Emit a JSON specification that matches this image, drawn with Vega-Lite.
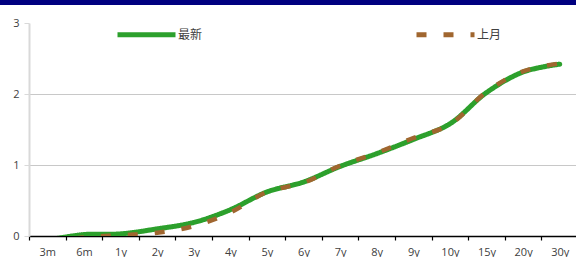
{
  "$schema": "https://vega.github.io/schema/vega-lite/v6.json",
  "padding": 0,
  "spacing": 12,
  "config": {"view": {"stroke": null}, "font": "Noto Sans CJK SC"},
  "vconcat": [
    {
      "width": 576,
      "height": 5,
      "data": {"values": [{"band": 1}]},
      "mark": {"type": "rect", "color": "#000080"},
      "encoding": {}
    },
    {
      "width": 578,
      "height": 213,
      "data": {"values": [
        {"tenor": "3m", "series": "最新", "yield": -0.06},
        {"tenor": "6m", "series": "最新", "yield": 0.02},
        {"tenor": "1y", "series": "最新", "yield": 0.03},
        {"tenor": "2y", "series": "最新", "yield": 0.10},
        {"tenor": "3y", "series": "最新", "yield": 0.19},
        {"tenor": "4y", "series": "最新", "yield": 0.37},
        {"tenor": "5y", "series": "最新", "yield": 0.62},
        {"tenor": "6y", "series": "最新", "yield": 0.76},
        {"tenor": "7y", "series": "最新", "yield": 0.98},
        {"tenor": "8y", "series": "最新", "yield": 1.16},
        {"tenor": "9y", "series": "最新", "yield": 1.36},
        {"tenor": "10y", "series": "最新", "yield": 1.58},
        {"tenor": "15y", "series": "最新", "yield": 2.02},
        {"tenor": "20y", "series": "最新", "yield": 2.31},
        {"tenor": "30y", "series": "最新", "yield": 2.42},
        {"tenor": "3m", "series": "上月", "yield": -0.1},
        {"tenor": "6m", "series": "上月", "yield": -0.02},
        {"tenor": "1y", "series": "上月", "yield": 0.01},
        {"tenor": "2y", "series": "上月", "yield": 0.045},
        {"tenor": "3y", "series": "上月", "yield": 0.14},
        {"tenor": "4y", "series": "上月", "yield": 0.33},
        {"tenor": "5y", "series": "上月", "yield": 0.62},
        {"tenor": "6y", "series": "上月", "yield": 0.75},
        {"tenor": "7y", "series": "上月", "yield": 0.99},
        {"tenor": "8y", "series": "上月", "yield": 1.17},
        {"tenor": "9y", "series": "上月", "yield": 1.38},
        {"tenor": "10y", "series": "上月", "yield": 1.57},
        {"tenor": "15y", "series": "上月", "yield": 2.03},
        {"tenor": "20y", "series": "上月", "yield": 2.32},
        {"tenor": "30y", "series": "上月", "yield": 2.43}
      ]},
      "encoding": {
        "x": {
          "field": "tenor", "type": "nominal", "sort": null,
          "scale": {"paddingInner": 0, "paddingOuter": 0, "range": [29, 578]},
          "axis": {
            "title": null, "labelAngle": 0, "tickBand": "extent",
            "domainColor": "#000000", "domainWidth": 1.5,
            "tickColor": "#000000", "tickSize": 4, "tickWidth": 1.2,
            "labelPadding": 6, "labelFontSize": 11, "labelColor": "#404040",
            "labelFont": "Open Sans"
          }
        },
        "y": {
          "field": "yield", "type": "quantitative",
          "scale": {"domain": [0, 3], "nice": false},
          "axis": {
            "title": null, "values": [0, 1, 2, 3], "offset": -29,
            "domainColor": "#d9d9d9", "domainWidth": 2,
            "tickColor": "#d9d9d9", "tickSize": 5,
            "labelPadding": 5, "labelFontSize": 11, "labelColor": "#404040",
            "labelFont": "Open Sans",
            "gridColor": "#c8c8c8", "gridWidth": 1,
            "gridOpacity": {"condition": {"test": "datum.value == 3 || datum.value == 0", "value": 0}, "value": 1}
          }
        },
        "color": {
          "field": "series", "type": "nominal",
          "scale": {"domain": ["最新", "上月"], "range": ["#2ca02c", "#a0662f"]},
          "legend": {
            "title": null, "orient": "none", "legendX": 115, "legendY": 3,
            "direction": "horizontal", "symbolType": "stroke", "symbolSize": 3364,
            "symbolStrokeWidth": 5, "labelOffset": 0, "columnPadding": 203,
            "labelFontSize": 12, "labelColor": "#404040", "padding": 0
          }
        },
        "strokeDash": {
          "field": "series", "type": "nominal",
          "scale": {"domain": ["最新", "上月"], "range": [[1, 0], [10, 17]]},
          "legend": null
        }
      },
      "layer": [
        {
          "transform": [{"filter": "datum.series == '最新'"}],
          "mark": {"type": "line", "interpolate": "catmull-rom", "strokeWidth": 5, "clip": true, "strokeCap": "round"}
        },
        {
          "transform": [{"filter": "datum.series == '上月'"}],
          "mark": {"type": "line", "interpolate": "catmull-rom", "strokeWidth": 4.5, "clip": true}
        }
      ]
    }
  ]
}
